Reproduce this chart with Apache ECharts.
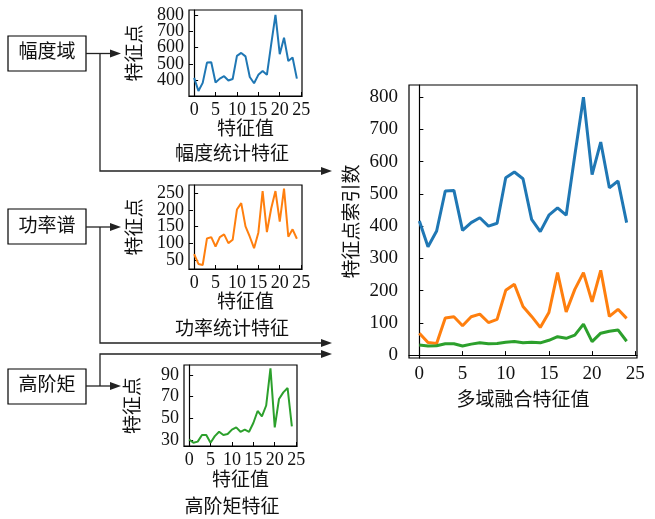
<!DOCTYPE html>
<html>
<head>
<meta charset="utf-8">
<script src="https://cdn.jsdelivr.net/npm/echarts@6/dist/echarts.min.js"></script>
<style>
html,body{margin:0;padding:0;background:#fff}
#main{width:655px;height:519px}
</style>
</head>
<body>
<div id="main"></div>
<script>
// 特征值序号
var featIndex = [];
for (var k = 0; k < 25; k++) { featIndex.push(k); }
// 幅度统计特征
var ampValues = [416, 336, 385, 509, 511, 387, 411, 426, 400, 409, 550, 568, 547, 421, 383, 434, 457, 434, 620, 800, 560, 661, 519, 540, 411];
// 功率统计特征
var powValues = [68, 39, 36, 115, 119, 91, 119, 127, 101, 111, 201, 220, 151, 120, 86, 132, 256, 134, 204, 256, 165, 263, 120, 142, 114];
// 高阶矩特征
var momValues = [31, 28, 29, 35, 35, 28, 34, 38, 35, 36, 40, 42, 38, 40, 38, 46, 57, 52, 62, 96, 42, 68, 74, 78, 43];

var xTicks = [0, 5, 10, 15, 20, 25];
var ampTicks = [400, 500, 600, 700, 800];
var powTicks = [50, 100, 150, 200, 250];
var momTicks = [30, 50, 70, 90];
var bigTicks = [0, 100, 200, 300, 400, 500, 600, 700, 800];

var domainNames = ['幅度域', '功率谱', '高阶矩'];
var subTitles = ['幅度统计特征', '功率统计特征', '高阶矩特征'];

var FONT = "'Liberation Serif', 'Noto Sans CJK SC', serif";
var colors = ['#1f77b4', '#ff7f0e', '#2ca02c'];

function pairs(arr) {
  return arr.map(function (v, i) { return [featIndex[i], v]; });
}
// 把刻度分成两组，避免标签被自动隐藏
function evens(arr) { return arr.filter(function (v, i) { return i % 2 === 0; }); }
function odds(arr) { return arr.filter(function (v, i) { return i % 2 === 1; }); }

function xAxisOf(gi, nameGap, big) {
  return {
    type: 'value', gridIndex: gi, min: -1.2, max: 25.2,
    name: big ? '多域融合特征值' : '特征值', nameLocation: 'middle', nameGap: nameGap,
    nameTextStyle: {fontFamily: FONT, fontSize: 19, color: '#111'},
    axisLine: {show: true, lineStyle: {color: '#000', width: 1.2}},
    axisTick: {show: true, inside: true, length: 4, customValues: xTicks, lineStyle: {color: '#000'}},
    axisLabel: {customValues: xTicks, fontFamily: FONT, fontSize: big ? 19 : 18, color: '#111', margin: big ? 7 : 5},
    splitLine: {show: false}
  };
}

function yAxisOf(gi, min, max, ticks, nameGap, big, extra) {
  return {
    type: 'value', gridIndex: gi, min: min, max: max, position: 'left',
    name: extra ? '' : (big ? '特征点索引数' : '特征点'), nameLocation: 'middle', nameGap: nameGap,
    nameTextStyle: {fontFamily: FONT, fontSize: 19, color: '#111'},
    axisLine: {show: !extra, lineStyle: {color: '#000', width: 1.2}},
    axisTick: {show: true, inside: true, length: 4, customValues: ticks, lineStyle: {color: '#000'}},
    axisLabel: {customValues: ticks, fontFamily: FONT, fontSize: big ? 19 : 18,
      color: '#111', margin: big ? 11 : 5},
    splitLine: {show: false}
  };
}

function gridOf(l, t, w, h) {
  return {left: l, top: t, width: w, height: h, show: true, borderColor: '#000', borderWidth: 1.2, backgroundColor: 'transparent'};
}

function lineSeries(gi, data, color, width) {
  return {
    type: 'line', xAxisIndex: gi, yAxisIndex: gi, data: pairs(data),
    showSymbol: false, symbol: 'none', lineStyle: {color: color, width: width}, animation: false
  };
}

// 框图与箭头
var gfx = [];
var boxes = [{y: 36, mid: 53.5, turn: 171}, {y: 209, mid: 227, turn: 343}, {y: 369, mid: 386, turn: 354}];
boxes.forEach(function (b, i) {
  gfx.push({type: 'rect', shape: {x: 8, y: b.y, width: 78, height: 35}, style: {fill: '#fff', stroke: '#000', lineWidth: 1.2}});
  gfx.push({type: 'text', style: {text: domainNames[i], x: 47, y: b.mid, align: 'center', verticalAlign: 'middle', fontFamily: FONT, fontSize: 19, fill: '#111'}});
  gfx.push({type: 'polyline', shape: {points: [[86, b.mid], [112, b.mid]]}, style: {stroke: '#222', lineWidth: 1.3, fill: null}});
  gfx.push({type: 'polygon', shape: {points: [[121, b.mid], [110, b.mid - 4], [110, b.mid + 4]]}, style: {fill: '#222'}});
  gfx.push({type: 'polyline', shape: {points: [[100, b.mid], [100, b.turn], [322, b.turn]]}, style: {stroke: '#222', lineWidth: 1.3, fill: null}});
  gfx.push({type: 'polygon', shape: {points: [[332, b.turn], [321, b.turn - 4], [321, b.turn + 4]]}, style: {fill: '#222'}});
});
var subY = [155, 330, 508];
subTitles.forEach(function (t, i) {
  gfx.push({type: 'text', style: {text: t, x: 232, y: subY[i], align: 'center', verticalAlign: 'middle', fontFamily: FONT, fontSize: 19, fill: '#111'}});
});

var chart = echarts.init(document.getElementById('main'), null, {renderer: 'canvas'});
chart.setOption({
  backgroundColor: '#fff',
  animation: false,
  grid: [
    gridOf(189, 10, 113, 86),
    gridOf(189, 185, 113, 84),
    gridOf(184, 365, 113, 81),
    gridOf(409, 85, 228, 273)
  ],
  xAxis: [
    xAxisOf(0, 25, false),
    xAxisOf(1, 25, false),
    xAxisOf(2, 26, false),
    xAxisOf(3, 34, true)
  ],
  yAxis: [
    yAxisOf(0, 305, 830, evens(ampTicks), 43, false, false),
    yAxisOf(1, 24, 274, evens(powTicks), 43, false, false),
    yAxisOf(2, 25, 99, momTicks, 40, false, false),
    yAxisOf(3, -9, 838, bigTicks, 46, true, false),
    yAxisOf(0, 305, 830, odds(ampTicks), 43, false, true),
    yAxisOf(1, 24, 274, odds(powTicks), 43, false, true)
  ],
  series: [
    lineSeries(0, ampValues, colors[0], 2),
    lineSeries(1, powValues, colors[1], 2),
    lineSeries(2, momValues, colors[2], 2),
    lineSeries(3, ampValues, colors[0], 3),
    lineSeries(3, powValues, colors[1], 3),
    lineSeries(3, momValues, colors[2], 3)
  ],
  graphic: gfx
});
</script>
</body>
</html>
